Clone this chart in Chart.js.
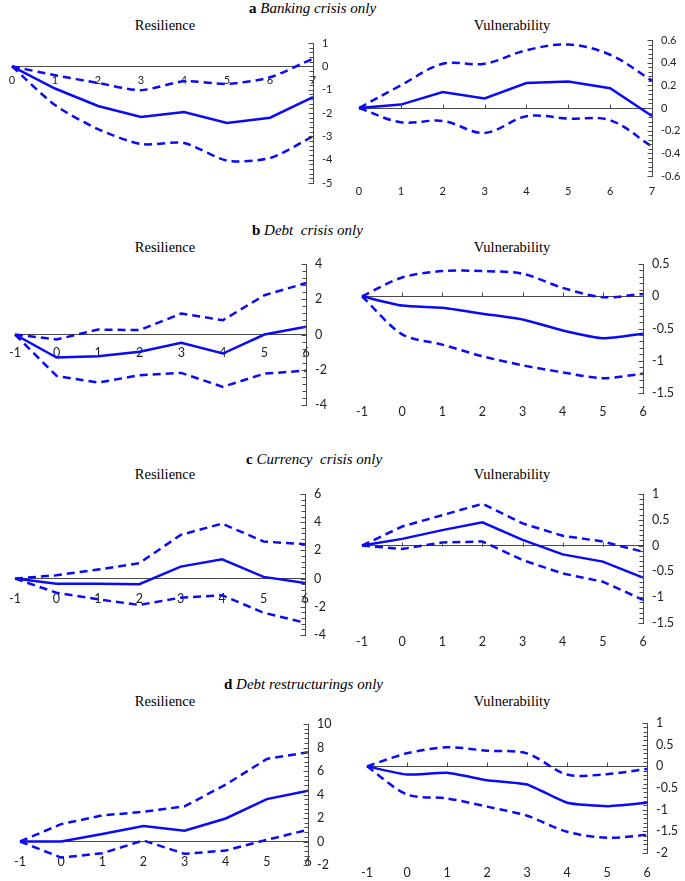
<!DOCTYPE html>
<html>
<head>
<meta charset="utf-8">
<script src="https://cdn.jsdelivr.net/npm/chart.js@4.4.1/dist/chart.umd.min.js"></script>
<style>
  html, body { margin: 0; padding: 0; background: #fff; }
  body { width: 685px; height: 881px; position: relative; overflow: hidden; }
  canvas { position: absolute; }
  .sec { position: absolute; font-family: "Liberation Serif", "Times New Roman", serif; font-size: 15px; white-space: pre; color: #000; transform: translateY(-50%); }
  .sec b { font-weight: bold; font-style: normal; }
  .sec i { font-style: italic; }
  .ttl { position: absolute; font-family: "Liberation Serif", "Times New Roman", serif; font-size: 14.5px; white-space: nowrap; color: #000; transform: translate(-50%, -50%); }
</style>
</head>
<body>
<div class="sec" style="left:249px; top:8px;"><b>a</b> <i>Banking crisis only</i></div>
<div class="sec" style="left:252px; top:230px;"><b>b</b> <i>Debt  crisis only</i></div>
<div class="sec" style="left:246px; top:459px;"><b>c</b> <i>Currency  crisis only</i></div>
<div class="sec" style="left:224px; top:684px;"><b>d</b> <i>Debt restructurings only</i></div>

<div class="ttl" style="left:165px; top:25px;">Resilience</div>
<div class="ttl" style="left:512px; top:25px;">Vulnerability</div>
<div class="ttl" style="left:165px; top:247px;">Resilience</div>
<div class="ttl" style="left:512px; top:247px;">Vulnerability</div>
<div class="ttl" style="left:165px; top:474px;">Resilience</div>
<div class="ttl" style="left:512px; top:474px;">Vulnerability</div>
<div class="ttl" style="left:165px; top:701px;">Resilience</div>
<div class="ttl" style="left:512px; top:701px;">Vulnerability</div>

<script>
// ---------- categories (horizon) ----------
const horizonA = ['0', '1', '2', '3', '4', '5', '6', '7'];
const horizonBCD = ['-1', '0', '1', '2', '3', '4', '5', '6'];

// ---------- a: Banking crisis only ----------
const aResEst = [0, -0.95, -1.70, -2.17, -1.96, -2.43, -2.20, -1.32];
const aResUp  = [0, -0.38, -0.71, -1.02, -0.64, -0.75, -0.47, 0.33];
const aResLo  = [0, -1.66, -2.69, -3.33, -3.29, -4.04, -3.93, -3.00];
const aVulEst = [0, 0.03, 0.14, 0.084, 0.22, 0.234, 0.175, -0.07];
const aVulUp  = [0, 0.20, 0.39, 0.39, 0.51, 0.56, 0.47, 0.24];
const aVulLo  = [0, -0.126, -0.114, -0.22, -0.073, -0.093, -0.108, -0.34];

// ---------- b: Debt crisis only ----------
const bResEst = [0, -1.31, -1.23, -0.98, -0.47, -1.08, 0, 0.44];
const bResUp  = [0, -0.28, 0.28, 0.25, 1.19, 0.81, 2.23, 2.92];
const bResLo  = [0, -2.35, -2.73, -2.31, -2.18, -2.97, -2.22, -2.05];
const bVulEst = [0, -0.145, -0.18, -0.27, -0.36, -0.53, -0.65, -0.58];
const bVulUp  = [0, 0.29, 0.39, 0.39, 0.35, 0.13, -0.015, 0.036];
const bVulLo  = [0, -0.59, -0.75, -0.93, -1.07, -1.18, -1.27, -1.20];

// ---------- c: Currency crisis only ----------
const cResEst = [0, -0.36, -0.36, -0.40, 0.85, 1.37, 0.12, -0.31];
const cResUp  = [0, 0.24, 0.64, 1.09, 3.10, 3.90, 2.63, 2.44];
const cResLo  = [0, -1.00, -1.47, -1.87, -1.35, -1.18, -2.42, -3.13];
const cVulEst = [0, 0.13, 0.30, 0.45, 0.11, -0.17, -0.31, -0.62];
const cVulUp  = [0, 0.37, 0.59, 0.81, 0.43, 0.19, 0.08, -0.12];
const cVulLo  = [0, -0.065, 0.06, 0.08, -0.28, -0.54, -0.70, -1.05];

// ---------- d: Debt restructurings only ----------
const dResEst = [0, 0, 0.63, 1.31, 0.91, 1.96, 3.61, 4.32];
const dResUp  = [0, 1.48, 2.22, 2.53, 2.99, 4.84, 7.03, 7.60];
const dResLo  = [0, -1.37, -1.00, 0.09, -1.05, -0.77, 0.14, 1.00];
const dVulEst = [0, -0.19, -0.15, -0.32, -0.42, -0.84, -0.92, -0.84];
const dVulUp  = [0, 0.30, 0.44, 0.36, 0.30, -0.19, -0.18, -0.06];
const dVulLo  = [0, -0.65, -0.74, -0.93, -1.14, -1.51, -1.65, -1.58];

// ---------- y-axis ranges (min, max, step) ----------
const aResAxis = [-5, 1, 1];
const aVulAxis = [-0.6, 0.6, 0.2];
const bResAxis = [-4, 4, 2];
const bVulAxis = [-1.5, 0.5, 0.5];
const cResAxis = [-4, 6, 2];
const cVulAxis = [-1.5, 1, 0.5];
const dResAxis = [-2, 10, 2];
const dVulAxis = [-2, 1, 0.5];

const BLUE = '#0a0af5';
const AXIS = '#4a4a4a';
const FONTFAM = 'Lato, "Liberation Sans", sans-serif';
const PAD_L = 25, PAD_T = 18, PAD_B = 18, YW = 40, X2H = 28;

// draws minor/major tick marks on the y axis (inside) and small up-ticks on the zero line
const axisTicks = {
  id: 'axisTicks',
  afterDraw(chart, args, opts) {
    const ys = chart.scales.y, xs = chart.scales.x, ctx = chart.ctx;
    const xp = Math.round(ys.left) + 0.5;
    const step = opts.step / 5;
    const n = Math.round((ys.max - ys.min) / step);
    ctx.save();
    ctx.strokeStyle = AXIS;
    ctx.lineWidth = 1;
    ctx.beginPath();
    for (let i = 0; i <= n; i++) {
      const v = ys.min + i * step;
      const py = Math.round(ys.getPixelForValue(v)) + 0.5;
      const len = (i % 5 === 0) ? 5 : 4;
      ctx.moveTo(xp - len, py);
      ctx.lineTo(xp, py);
    }
    if (opts.upTicks) {
      const zy = Math.round(ys.getPixelForValue(0)) + 0.5;
      for (let i = 1; i < xs.ticks.length - 1; i++) {
        const px = Math.round(xs.getPixelForTick(i)) + 0.5;
        ctx.moveTo(px, zy);
        ctx.lineTo(px, zy - 4);
      }
    }
    ctx.stroke();
    ctx.restore();
  }
};

function makePanel(p) {
  const cv = document.createElement('canvas');
  const isVul = p.kind === 'V';
  const bottomSpace = isVul ? X2H : PAD_B;
  const w = (p.x1 - p.x0) + PAD_L + YW;
  const h = (p.yB - p.yT) + PAD_T + bottomSpace;
  cv.width = w; cv.height = h;
  cv.style.left = (p.x0 - PAD_L) + 'px';
  cv.style.top = (p.yT - PAD_T) + 'px';
  cv.style.width = w + 'px'; cv.style.height = h + 'px';
  document.body.appendChild(cv);
  const tickFont = { family: FONTFAM, size: p.fs };

  const ds = (data, dashed, tension) => ({
    data: data,
    borderColor: BLUE,
    borderWidth: 2.5,
    borderDash: dashed ? [8, 5] : [],
    pointRadius: 0,
    fill: false,
    tension: tension || 0,
    xAxisID: 'x',
    yAxisID: 'y'
  });

  const scales = {
    x: {
      type: 'category',
      labels: p.cats,
      position: { y: 0 },
      offset: false,
      grid: { display: false, drawTicks: false },
      border: { display: true, color: AXIS, width: 1 },
      ticks: { display: !isVul, font: tickFont, color: '#222', padding: p.xPad, maxRotation: 0, autoSkip: false }
    },
    y: {
      position: 'right',
      min: p.axis[0], max: p.axis[1],
      grid: { display: false, drawTicks: false },
      border: { display: true, color: AXIS, width: 1 },
      ticks: {
        stepSize: p.axis[2], font: tickFont, color: '#222', padding: 9,
        callback: v => String(Math.round(v * 10) / 10)
      },
      afterFit: s => { s.width = YW; }
    }
  };
  if (isVul) {
    scales.x2 = {
      type: 'category',
      labels: p.cats,
      position: 'bottom',
      offset: false,
      grid: { display: false, drawTicks: false },
      border: { display: false },
      ticks: { font: tickFont, color: '#222', padding: p.xPad, maxRotation: 0, autoSkip: false },
      afterFit: s => { s.height = X2H; }
    };
  }

  new Chart(cv, {
    type: 'line',
    data: {
      labels: p.cats,
      datasets: [
        ds(p.up, true, p.tDash),
        ds(p.lo, true, p.tDash),
        ds(p.est, false, p.tEst)
      ]
    },
    options: {
      responsive: false,
      animation: false,
      devicePixelRatio: 1,
      layout: { padding: { left: PAD_L, top: PAD_T, right: 0, bottom: isVul ? 0 : PAD_B } },
      plugins: {
        legend: { display: false },
        tooltip: { enabled: false },
        title: { display: false },
        axisTicks: { step: p.axis[2], upTicks: isVul }
      },
      scales: scales
    },
    plugins: [axisTicks]
  });
}

makePanel({ kind: 'R', cats: horizonA, est: aResEst, up: aResUp, lo: aResLo, axis: aResAxis,
  x0: 12, x1: 313, yT: 43, yB: 183, xPad: 8, fs: 11, tDash: 0.25, tEst: 0 });
makePanel({ kind: 'V', cats: horizonA, est: aVulEst, up: aVulUp, lo: aVulLo, axis: aVulAxis,
  x0: 359, x1: 652, yT: 40, yB: 176, xPad: 9, fs: 11, tDash: 0.35, tEst: 0 });

makePanel({ kind: 'R', cats: horizonBCD, est: bResEst, up: bResUp, lo: bResLo, axis: bResAxis,
  x0: 15, x1: 306, yT: 264, yB: 405, xPad: 11, fs: 12.5, tDash: 0, tEst: 0 });
makePanel({ kind: 'V', cats: horizonBCD, est: bVulEst, up: bVulUp, lo: bVulLo, axis: bVulAxis,
  x0: 362, x1: 643, yT: 264, yB: 393, xPad: 11, fs: 12.5, tDash: 0.3, tEst: 0.2 });

makePanel({ kind: 'R', cats: horizonBCD, est: cResEst, up: cResUp, lo: cResLo, axis: cResAxis,
  x0: 15, x1: 305, yT: 494, yB: 635, xPad: 13, fs: 12.5, tDash: 0, tEst: 0 });
makePanel({ kind: 'V', cats: horizonBCD, est: cVulEst, up: cVulUp, lo: cVulLo, axis: cVulAxis,
  x0: 362, x1: 643, yT: 494, yB: 623, xPad: 11, fs: 12.5, tDash: 0, tEst: 0 });

makePanel({ kind: 'R', cats: horizonBCD, est: dResEst, up: dResUp, lo: dResLo, axis: dResAxis,
  x0: 20, x1: 308, yT: 724, yB: 865, xPad: 13, fs: 12.5, tDash: 0, tEst: 0 });
makePanel({ kind: 'V', cats: horizonBCD, est: dVulEst, up: dVulUp, lo: dVulLo, axis: dVulAxis,
  x0: 367, x1: 647, yT: 723, yB: 853, xPad: 12, fs: 12.5, tDash: 0.3, tEst: 0.15 });
</script>
</body>
</html>
